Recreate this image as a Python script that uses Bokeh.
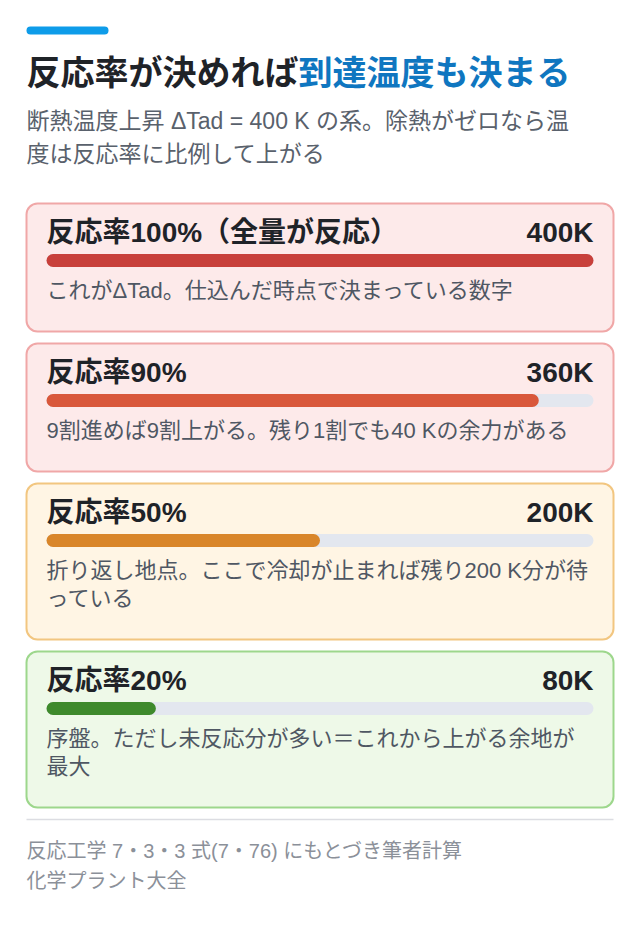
from bokeh.plotting import figure
from bokeh.models import Range1d
from bokeh.core.properties import value
from bokeh.embed import file_html
from bokeh.resources import INLINE

# ---------------- data ----------------
title_main = "反応率が決めれば"
title_accent = "到達温度も決まる"
subtitle_lines = ["断熱温度上昇 ΔTad = 400 K の系。除熱がゼロなら温",
                  "度は反応率に比例して上がる"]
delta_T_ad = 400  # K, full scale
conversion_labels = ["反応率100%（全量が反応）", "反応率90%", "反応率50%", "反応率20%"]
temperature_rise_K = [400, 360, 200, 80]
value_labels = ["400K", "360K", "200K", "80K"]
notes = [
    ["これがΔTad。仕込んだ時点で決まっている数字"],
    ["9割進めば9割上がる。残り1割でも40 Kの余力がある"],
    ["折り返し地点。ここで冷却が止まれば残り200 K分が待", "っている"],
    ["序盤。ただし未反応分が多い＝これから上がる余地が", "最大"],
]
footer_lines = ["反応工学 7・3・3 式(7・76) にもとづき筆者計算", "化学プラント大全"]

# ---------------- styles ----------------
card_fill = ["#fdeaea", "#fdeaea", "#fff5e4", "#eef9e8"]
card_line = ["#f0a7a7", "#f0a7a7", "#f2c680", "#9dd78c"]
bar_color = ["#c8403b", "#d9583b", "#d9862a", "#3e8a2c"]
track_color = "#e3e7ef"
ink = "#1f2328"
FONT = value("Liberation Sans, Noto Sans CJK JP")

W, H = 624, 914
p = figure(width=W, height=H, output_backend="svg", toolbar_location=None,
           x_range=Range1d(0, W), y_range=Range1d(H, 0),
           min_border=0, min_border_left=0, min_border_right=0,
           min_border_top=0, min_border_bottom=0)
p.axis.visible = False
p.grid.visible = False
p.outline_line_color = None
p.background_fill_color = "white"
p.border_fill_color = "white"

LEFT, RIGHT = 26, 613
IN_L, IN_R = 46, 593

# value scale: 0 K at IN_L, delta_T_ad at IN_R
k_per_px = delta_T_ad / (IN_R - IN_L)
p.extra_x_ranges["k"] = Range1d((0 - IN_L) * k_per_px, (W - IN_L) * k_per_px)

# accent bar
p.quad(left=[26], right=[108], top=[26], bottom=[34], fill_color="#0e9ce9",
       line_color=None, border_radius=4)

# title
p.text(x=[26], y=[72], text=[title_main], text_font=FONT, text_font_size="34px",
       text_font_style="bold", text_color=ink, text_baseline="middle")
p.text(x=[26 + 34 * len(title_main)], y=[72], text=[title_accent], text_font=FONT,
       text_font_size="34px", text_font_style="bold", text_color="#0f76c0",
       text_baseline="middle")

# subtitle
p.text(x=[26] * len(subtitle_lines), y=[120 + 33 * i for i in range(len(subtitle_lines))],
       text=subtitle_lines, text_font=FONT, text_font_size="23px",
       text_color="#59616c", text_baseline="middle")

# cards
top = 203
for i in range(len(conversion_labels)):
    h = 100 + 28 * len(notes[i])
    p.quad(left=[LEFT], right=[RIGHT], top=[top], bottom=[top + h],
           fill_color=card_fill[i], line_color=card_line[i], line_width=2,
           border_radius=11)
    p.text(x=[IN_L], y=[top + 29], text=[conversion_labels[i]], text_font=FONT,
           text_font_size="28px", text_font_style="bold", text_color=ink,
           text_baseline="middle")
    p.text(x=[IN_R], y=[top + 29], text=[value_labels[i]], text_font=FONT,
           text_font_size="28px", text_font_style="bold", text_color=ink,
           text_baseline="middle", text_align="right")
    p.hbar(y=[top + 57], left=[0], right=[delta_T_ad], height=13,
           fill_color=track_color, line_color=None, x_range_name="k",
           border_radius=7)
    p.hbar(y=[top + 57], left=[0], right=[temperature_rise_K[i]], height=13,
           fill_color=bar_color[i], line_color=None, x_range_name="k",
           border_radius=7)
    p.text(x=[IN_L] * len(notes[i]), y=[top + 87 + 28 * j for j in range(len(notes[i]))],
           text=notes[i], text_font=FONT, text_font_size="22px",
           text_color="#4f5763", text_baseline="middle")
    top += h + 12

# separator
p.segment(x0=[LEFT], x1=[RIGHT], y0=[819], y1=[819], line_color="#dcdde2", line_width=1.5)

# footer
p.text(x=[26] * len(footer_lines), y=[850 + 30 * i for i in range(len(footer_lines))],
       text=footer_lines, text_font=FONT, text_font_size="20px",
       text_color="#8b9099", text_baseline="middle")

open("out.html", "w").write(file_html(p, INLINE))
